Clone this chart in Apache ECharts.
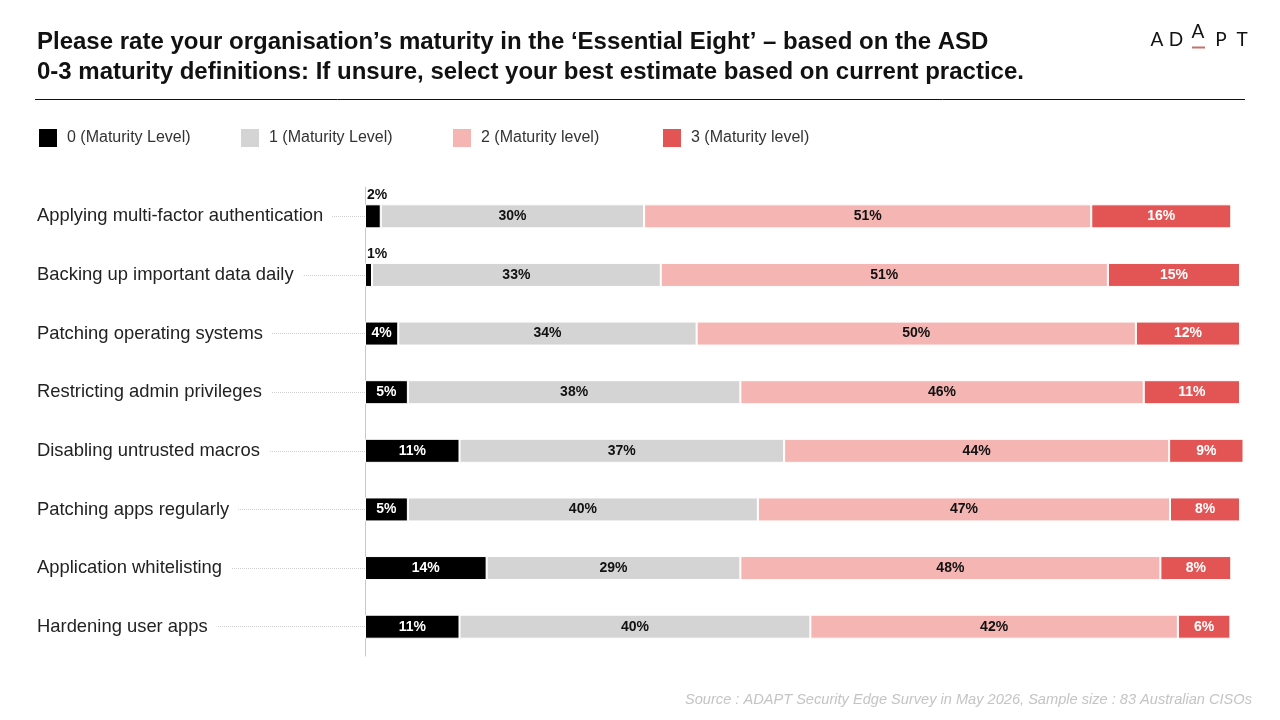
<!DOCTYPE html>
<html>
<head>
<meta charset="utf-8">
<script src="https://cdn.jsdelivr.net/npm/echarts@6/dist/echarts.min.js"></script>
<style>
  html, body { margin: 0; padding: 0; background: #fff; }
  #main { width: 1280px; height: 720px; }
</style>
</head>
<body>
<div id="main"></div>
<script>
    // data
    var categories = [
        'Applying multi-factor authentication',
        'Backing up important data daily',
        'Patching operating systems',
        'Restricting admin privileges',
        'Disabling untrusted macros',
        'Patching apps regularly',
        'Application whitelisting',
        'Hardening user apps'
    ];
    var level0 = [1.8, 0.8, 3.8, 4.9, 10.8, 4.9, 13.9, 10.8];
    var level1 = [30.1, 33.0, 34.1, 38.0, 37.1, 40.0, 29.0, 40.1];
    var level2 = [51.1, 51.1, 50.2, 46.1, 44.0, 47.1, 48.0, 42.0];
    var level3 = [16.0, 15.1, 11.9, 11.0, 8.5, 8.0, 8.1, 6.0];
    var seriesNames = ['0 (Maturity Level)', '1 (Maturity Level)', '2 (Maturity level)', '3 (Maturity level)'];
    var colors = ['#000000', '#d4d4d4', '#f4b5b3', '#e25554'];
    var labelColors = ['#ffffff', '#111111', '#111111', '#ffffff'];

    var mychart = echarts.init(document.getElementById('main'));

    function makeSeries(idx, values) {
        var data = [];
        for (var i = 0; i < values.length; i++) {
            var item = { value: values[i] };
            // tiny segments get their label above the bar
            if (values[i] < 3) {
                item.label = { position: [2, -16], color: '#111' };
            }
            data.push(item);
        }
        return {
            name: seriesNames[idx],
            type: 'bar',
            stack: 'total',
            barWidth: 24,
            clip: false,
            itemStyle: { color: colors[idx], borderColor: '#fff', borderWidth: 1 },
            label: {
                show: true,
                position: 'inside',
                formatter: function (p) { return Math.round(p.value) + '%'; },
                color: labelColors[idx],
                fontFamily: 'Liberation Sans, Arial, sans-serif',
                fontWeight: 'bold',
                fontSize: 14
            },
            emphasis: { disabled: true },
            data: data
        };
    }

    var legendLeft = [38, 240, 452, 662];
    var legends = [];
    for (var k = 0; k < seriesNames.length; k++) {
        legends.push({
            data: [seriesNames[k]],
            left: legendLeft[k] - 6,
            top: 122,
            icon: 'rect',
            itemWidth: 20,
            itemHeight: 20,
            itemGap: 0,
            selectedMode: false,
            textStyle: {
                fontFamily: 'Liberation Sans, Arial, sans-serif',
                fontSize: 16,
                color: '#333',
                padding: [0, 0, 0, 4]
            }
        });
    }

    var logoLetters = ['A', 'D', 'A', 'P', 'T'];
    var logoX = [1157, 1176, 1198, 1221, 1242];
    var logo = [];
    for (var j = 0; j < logoLetters.length; j++) {
        logo.push({
            type: 'text',
            x: logoX[j],
            y: j === 2 ? 32 : 40,
            style: {
                text: logoLetters[j],
                fontFamily: 'Lato, sans-serif',
                fontWeight: 400,
                fontSize: 19,
                fill: '#111',
                align: 'center',
                verticalAlign: 'middle'
            }
        });
    }
    logo.push({
        type: 'rect',
        shape: { x: 1192, y: 46.5, width: 13, height: 2 },
        style: { fill: '#c9706f' }
    });

    mychart.setOption({
        animation: false,
        title: {
            text: 'Please rate your organisation\u2019s maturity in the \u2018Essential Eight\u2019 \u2013 based on the ASD\n0-3 maturity definitions: If unsure, select your best estimate based on current practice.',
            left: 37,
            top: 27,
            padding: 0,
            textStyle: {
                fontFamily: 'Liberation Sans, Arial, sans-serif',
                fontWeight: 'bold',
                fontSize: 24,
                lineHeight: 30,
                color: '#111'
            }
        },
        legend: legends,
        grid: {
            left: 365,
            right: 40,
            top: 187,
            bottom: 64
        },
        xAxis: {
            type: 'value',
            min: 0,
            max: 100,
            show: false
        },
        yAxis: {
            type: 'category',
            data: categories,
            inverse: true,
            axisLine: { show: true, lineStyle: { color: '#c8c8c8', width: 1 } },
            axisTick: {
                show: true,
                alignWithLabel: true,
                length: 320,
                lineStyle: { color: '#cfcfcf', type: 'dotted', width: 1 }
            },
            axisLabel: {
                margin: 328,
                align: 'left',
                fontFamily: 'Liberation Sans, Arial, sans-serif',
                fontSize: 18.4,
                color: '#222',
                backgroundColor: '#fff',
                padding: [2, 9, 2, 0]
            }
        },
        series: [
            makeSeries(0, level0),
            makeSeries(1, level1),
            makeSeries(2, level2),
            makeSeries(3, level3)
        ],
        graphic: [
            {
                type: 'line',
                shape: { x1: 35, y1: 99.5, x2: 1245, y2: 99.5 },
                style: { stroke: '#111', lineWidth: 1 }
            },
            {
                type: 'text',
                right: 28,
                top: 692,
                style: {
                    text: 'Source : ADAPT Security Edge Survey in May 2026, Sample size : 83 Australian CISOs',
                    fontFamily: 'Liberation Sans, Arial, sans-serif',
                    fontStyle: 'italic',
                    fontSize: 14.6,
                    fill: '#c4c4c4'
                }
            }
        ].concat(logo)
    });
</script>
</body>
</html>
